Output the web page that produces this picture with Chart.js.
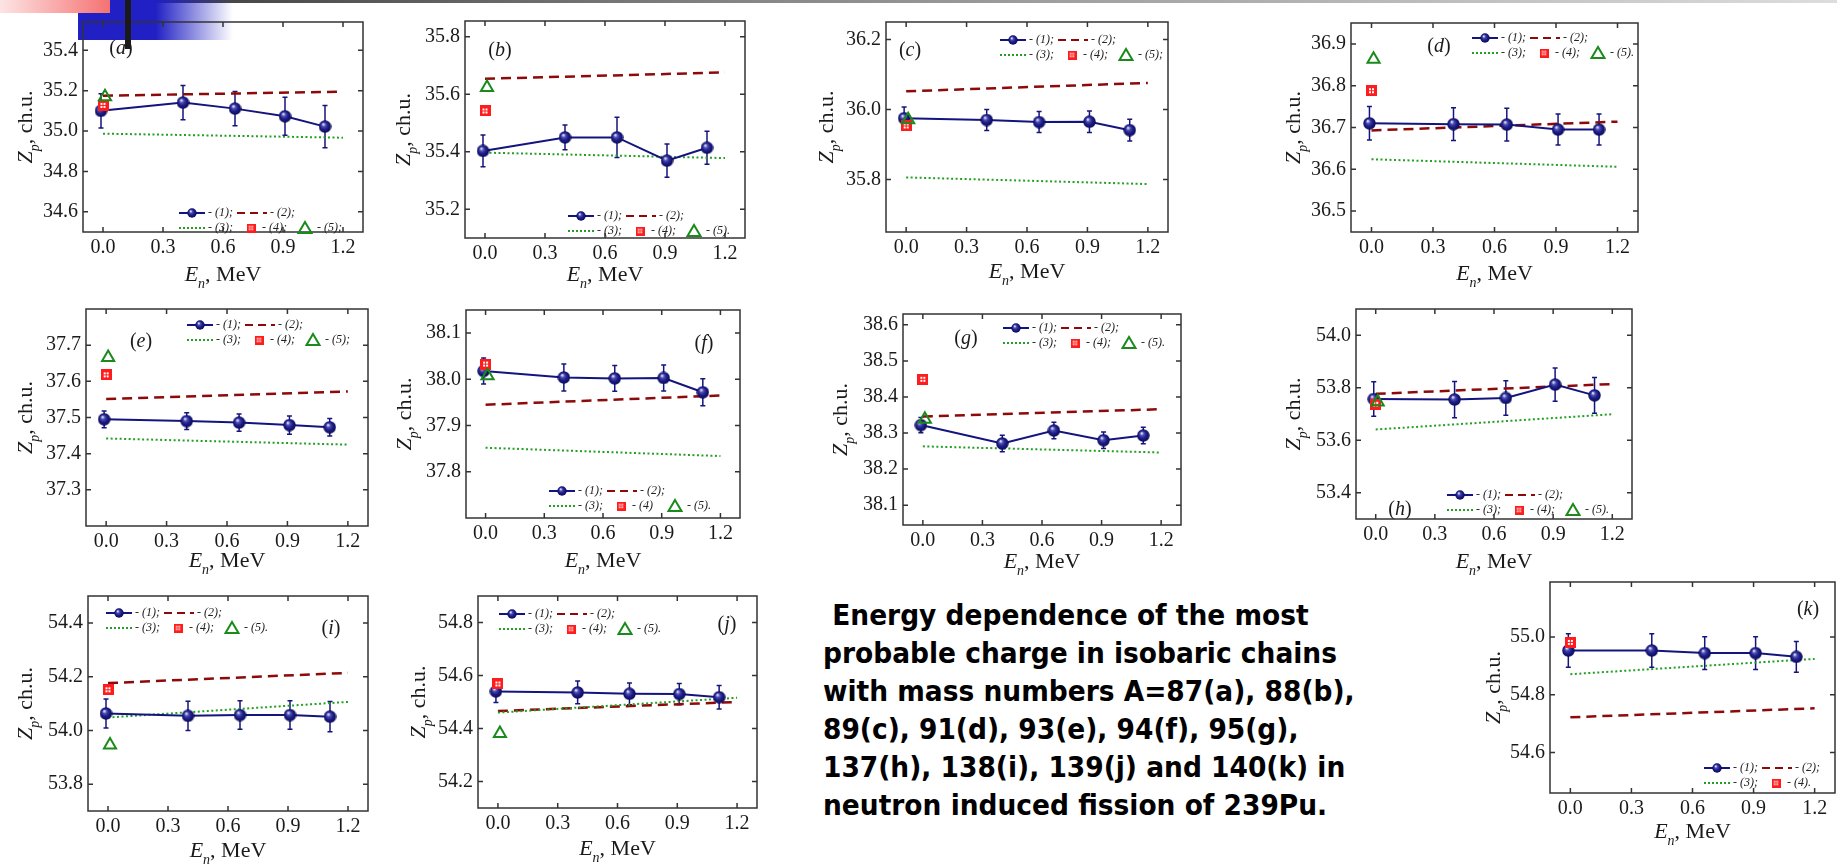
<!DOCTYPE html>
<html>
<head>
<meta charset="utf-8">
<script src="https://cdn.jsdelivr.net/npm/chart.js@4.4.0/dist/chart.umd.min.js"></script>
<style>
  body { margin: 0; width: 1837px; height: 865px; overflow: hidden; background: #fff; position: relative; }
  canvas { position: absolute; z-index: 2; }
  .deco { position: absolute; }
  #topbar { left: 58px; top: 0; width: 1779px; height: 3px; background: linear-gradient(to right, #333, #888 40%, #ddd); z-index: 1; }
  #blue { left: 78px; top: 0; width: 155px; height: 40px; background: linear-gradient(to right, #2020c4 0%, #2020c4 50%, rgba(255,255,255,0)); z-index: 1; }
  #red { left: 0; top: 0; width: 110px; height: 13px; background: linear-gradient(to right, #fde4e4, #f9a0a0 60%, #f47272); z-index: 1; }
  #bar { left: 125px; top: 0; width: 6px; height: 49px; background: #1a1a1a; z-index: 3; }
  #caption {
    position: absolute; left: 823px; top: 596px; white-space: pre;
    font-family: "DejaVu Sans", sans-serif; font-weight: bold; font-size: 29px; line-height: 38px;
    color: #000; transform: scaleX(0.913); transform-origin: left top;
  }
</style>
</head>
<body>
<div class="deco" id="topbar"></div>
<div class="deco" id="blue"></div>
<div class="deco" id="red"></div>
<div class="deco" id="bar"></div>
<div id="caption"> Energy dependence of the most
probable charge in isobaric chains
with mass numbers A=87(a), 88(b),
89(c), 91(d), 93(e), 94(f), 95(g),
137(h), 138(i), 139(j) and 140(k) in
neutron induced fission of 239Pu.</div>

<script>
// ---- data ----
const panelNames = ['a', 'b', 'c', 'd', 'e', 'f', 'g', 'h', 'i', 'j', 'k'];
const energies = [-0.01, 0.40, 0.66, 0.91, 1.11];   // MeV, experiment (1)
const theoryEnergies = [0.0, 1.2];                   // MeV, curves (2), (3)
const ref4Energy = 0.0;
const ref5Energy = 0.01;

const zExp = [
  [35.100, 35.141, 35.111, 35.073, 35.022],
  [35.403, 35.450, 35.450, 35.369, 35.414],
  [35.975, 35.970, 35.964, 35.965, 35.941],
  [36.710, 36.708, 36.707, 36.695, 36.695],
  [37.495, 37.490, 37.486, 37.479, 37.473],
  [38.018, 38.004, 38.002, 38.003, 37.972],
  [38.322, 38.271, 38.307, 38.280, 38.293],
  [53.757, 53.755, 53.761, 53.812, 53.771],
  [54.063, 54.054, 54.057, 54.057, 54.051],
  [54.540, 54.536, 54.531, 54.530, 54.518],
  [54.953, 54.953, 54.944, 54.944, 54.931]
];
const zErr = [
  [0.085, 0.085, 0.085, 0.094, 0.105],
  [0.055, 0.043, 0.070, 0.058, 0.057],
  [0.032, 0.030, 0.030, 0.031, 0.031],
  [0.040, 0.039, 0.039, 0.037, 0.037],
  [0.023, 0.023, 0.024, 0.025, 0.024],
  [0.028, 0.029, 0.028, 0.028, 0.029],
  [0.021, 0.023, 0.023, 0.023, 0.023],
  [0.066, 0.069, 0.066, 0.063, 0.068],
  [0.054, 0.054, 0.053, 0.053, 0.056],
  [0.042, 0.043, 0.041, 0.040, 0.044],
  [0.058, 0.058, 0.057, 0.057, 0.053]
];
const zModel2 = [
  [35.175, 35.195], [35.654, 35.676], [36.052, 36.076], [36.693, 36.714],
  [37.551, 37.572], [37.945, 37.965], [38.346, 38.366], [53.777, 53.814],
  [54.176, 54.214], [54.466, 54.500], [54.722, 54.753]
];
const zModel3 = [
  [34.987, 34.967], [35.397, 35.378], [35.806, 35.787], [36.624, 36.606],
  [37.442, 37.425], [37.852, 37.834], [38.263, 38.246], [53.641, 53.699],
  [54.048, 54.106], [54.460, 54.516], [54.871, 54.924]
];
const zRef4 = [35.127, 35.542, 35.953, 36.788, 37.618, 38.033, 38.449, 53.737, 54.151, 54.568, 54.981];
const zRef5 = [35.170, 35.624, 35.971, 36.863, 37.666, 38.008, 38.338, 53.746, 53.946, 54.381, null];

const xTicks = [0.0, 0.3, 0.6, 0.9, 1.2];
const yTicks = [
  [34.6, 34.8, 35.0, 35.2, 35.4],
  [35.2, 35.4, 35.6, 35.8],
  [35.8, 36.0, 36.2],
  [36.5, 36.6, 36.7, 36.8, 36.9],
  [37.3, 37.4, 37.5, 37.6, 37.7],
  [37.8, 37.9, 38.0, 38.1],
  [38.1, 38.2, 38.3, 38.4, 38.5, 38.6],
  [53.4, 53.6, 53.8, 54.0],
  [53.8, 54.0, 54.2, 54.4],
  [54.2, 54.4, 54.6, 54.8],
  [54.6, 54.8, 55.0]
];
const yMin = [34.5, 35.1, 35.65, 36.45, 37.2, 37.7, 38.045, 53.3, 53.7, 54.1, 54.46];
const yMax = [35.54, 35.855, 36.25, 36.95, 37.8, 38.15, 38.63, 54.1, 54.5, 54.9, 55.19];

const label4 = ['- (4);', '- (4);', '- (4);', '- (4);', '- (4);', '- (4)', '- (4);', '- (4);', '- (4);', '- (4);', '- (4).'];
const label5 = ['- (5);', '- (5).', '- (5);', '- (5).', '- (5);', '- (5).', '- (5).', '- (5).', '- (5).', '- (5).', null];

// ---- layout (page pixels) ----
const boxes = [ // left, top, right, bottom of each plot frame
  [83, 10, 367, 232], [465, 9, 749, 238], [886, 10, 1172, 232], [1351, 11, 1642, 232],
  [86, 297, 372, 526], [466, 298, 744, 518], [903, 302, 1185, 525], [1356, 297, 1636, 519],
  [88, 584, 372, 811], [478, 584, 761, 808], [1550, 570, 1838, 793]
];
const legendAt = [[96, 191], [103, 195], [114, 18], [121, 15], [101, 16], [83, 181],
                  [100, 14], [91, 186], [18, 17], [21, 18], [154, 186]];
const letterAt = [[38, 25], [35, 28], [24, 27], [88, 22], [55, 31], [238, 32],
                  [63, 23], [44, 199], [243, 31], [249, 27], [258, 26]];
const xTitleDy = [49, 43, 46, 48, 41, 49, 43, 49, 46, 47, 45];
const yTitleDx = [51, 55, 53, 51, 54, 55, 56, 56, 56, 53, 50];

const AX_W = 80, AX_H = 65, PAD_T = 5, PAD_R = 5;
const NAVY = '#14147e', DARKRED = '#8e0a0a', GREEN = '#22a022', TRI = '#1a8a1a', FRAME = '#333';
const SERIF = '"Liberation Serif", "Times New Roman", serif';

function makeSphere(d) {
  const c = document.createElement('canvas');
  c.width = c.height = d;
  const g = c.getContext('2d');
  const r = d / 2;
  const grad = g.createRadialGradient(r * 0.72, r * 0.62, r * 0.05, r, r, r);
  grad.addColorStop(0, '#eeeeff');
  grad.addColorStop(0.28, '#4a4ab0');
  grad.addColorStop(0.6, '#1c1c88');
  grad.addColorStop(1, '#090950');
  g.fillStyle = grad;
  g.beginPath();
  g.arc(r, r, r - 0.3, 0, Math.PI * 2);
  g.fill();
  return c;
}

function makeSquare(s) {
  const c = document.createElement('canvas');
  c.width = c.height = s;
  const g = c.getContext('2d');
  g.fillStyle = '#ff1c1c';
  g.fillRect(0, 0, s, s);
  g.fillStyle = '#fff';
  const q = s / 11;
  [[3, 3], [6, 3], [3, 6], [6, 6]].forEach(([a, b]) => g.fillRect(a * q, b * q, 2 * q, 2 * q));
  return c;
}

const sphere = makeSphere(13);
const sphereSmall = makeSphere(10);
const square = makeSquare(11);
const squareSmall = makeSquare(9);

function drawRich(ctx, parts, x, y, size) {
  const fontOf = p => (p.i ? 'italic ' : '') + (p.sub ? Math.round(size * 0.65) : size) + 'px ' + SERIF;
  let total = 0;
  parts.forEach(p => { ctx.font = fontOf(p); total += ctx.measureText(p.t).width; });
  let cx = x - total / 2;
  ctx.textAlign = 'left';
  ctx.textBaseline = 'alphabetic';
  parts.forEach(p => {
    ctx.font = fontOf(p);
    ctx.fillText(p.t, cx, y + (p.sub ? size * 0.3 : 0));
    cx += ctx.measureText(p.t).width;
  });
}

function drawLegend(ctx, x0, y1, i) {
  const y2 = y1 + 15;
  ctx.save();
  ctx.font = 'italic 12px ' + SERIF;
  ctx.fillStyle = '#222';
  ctx.textBaseline = 'middle';
  ctx.textAlign = 'left';
  // (1)
  ctx.strokeStyle = NAVY; ctx.lineWidth = 2;
  ctx.beginPath(); ctx.moveTo(x0, y1); ctx.lineTo(x0 + 26, y1); ctx.stroke();
  ctx.drawImage(sphereSmall, x0 + 13 - 5, y1 - 5);
  ctx.fillText('- (1);', x0 + 29, y1);
  // (2)
  ctx.strokeStyle = DARKRED; ctx.setLineDash([8, 5]);
  ctx.beginPath(); ctx.moveTo(x0 + 58, y1); ctx.lineTo(x0 + 88, y1); ctx.stroke();
  ctx.fillText('- (2);', x0 + 91, y1);
  // (3)
  ctx.strokeStyle = GREEN; ctx.setLineDash([2, 2]);
  ctx.beginPath(); ctx.moveTo(x0, y2); ctx.lineTo(x0 + 26, y2); ctx.stroke();
  ctx.setLineDash([]);
  ctx.fillText('- (3);', x0 + 29, y2);
  // (4)
  ctx.drawImage(squareSmall, x0 + 72 - 4.5, y2 - 4.5);
  ctx.fillText(label4[i], x0 + 83, y2);
  // (5)
  if (label5[i]) {
    const cx = x0 + 126;
    ctx.strokeStyle = TRI; ctx.lineWidth = 2;
    ctx.beginPath();
    ctx.moveTo(cx, y2 - 6); ctx.lineTo(cx + 6.5, y2 + 5); ctx.lineTo(cx - 6.5, y2 + 5); ctx.closePath();
    ctx.stroke();
    ctx.fillText(label5[i], x0 + 138, y2);
  }
  ctx.restore();
}

function makeDecor(i) {
  return {
    id: 'decor' + i,
    beforeDatasetsDraw(chart) {
      // error bars of series (1)
      const { ctx, scales: { x, y } } = chart;
      ctx.save();
      ctx.strokeStyle = NAVY;
      ctx.lineWidth = 1.5;
      energies.forEach((e, k) => {
        const px = x.getPixelForValue(e);
        const lo = y.getPixelForValue(zExp[i][k] - zErr[i][k]);
        const hi = y.getPixelForValue(zExp[i][k] + zErr[i][k]);
        ctx.beginPath();
        ctx.moveTo(px, lo); ctx.lineTo(px, hi);
        ctx.moveTo(px - 2.5, lo); ctx.lineTo(px + 2.5, lo);
        ctx.moveTo(px - 2.5, hi); ctx.lineTo(px + 2.5, hi);
        ctx.stroke();
      });
      ctx.restore();
    },
    afterDraw(chart) {
      const { ctx, chartArea: a, scales: { x, y } } = chart;
      ctx.save();
      // frame and inward ticks on all sides
      ctx.strokeStyle = FRAME;
      ctx.lineWidth = 1.5;
      ctx.strokeRect(a.left, a.top, a.right - a.left, a.bottom - a.top);
      ctx.beginPath();
      xTicks.forEach(v => {
        const px = x.getPixelForValue(v);
        ctx.moveTo(px, a.bottom); ctx.lineTo(px, a.bottom - 5);
        ctx.moveTo(px, a.top); ctx.lineTo(px, a.top + 5);
      });
      yTicks[i].forEach(v => {
        const py = y.getPixelForValue(v);
        ctx.moveTo(a.left, py); ctx.lineTo(a.left + 5, py);
        ctx.moveTo(a.right, py); ctx.lineTo(a.right - 5, py);
      });
      ctx.stroke();

      // axis titles
      ctx.fillStyle = '#1a1a1a';
      drawRich(ctx, [{ t: 'E', i: true }, { t: 'n', i: true, sub: true }, { t: ', MeV' }],
        (a.left + a.right) / 2, a.bottom + xTitleDy[i], 22);
      ctx.save();
      ctx.translate(a.left - yTitleDx[i], (a.top + a.bottom) / 2);
      ctx.rotate(-Math.PI / 2);
      drawRich(ctx, [{ t: 'Z', i: true }, { t: 'p', i: true, sub: true }, { t: ', ch.u.' }], 0, 0, 22);
      ctx.restore();

      // panel letter
      drawRich(ctx, [{ t: '(' }, { t: panelNames[i], i: true }, { t: ')' }],
        a.left + letterAt[i][0], a.top + letterAt[i][1] + 7, 20);

      drawLegend(ctx, a.left + legendAt[i][0], a.top + legendAt[i][1], i);
      ctx.restore();
    }
  };
}

panelNames.forEach((name, i) => {
  const [L, T, R, B] = boxes[i];
  const canvas = document.createElement('canvas');
  const w = (R - L) + AX_W + PAD_R;
  const h = (B - T) + PAD_T + AX_H;
  canvas.width = w; canvas.height = h;
  canvas.style.width = w + 'px'; canvas.style.height = h + 'px';
  canvas.style.left = (L - AX_W) + 'px';
  canvas.style.top = (T - PAD_T) + 'px';
  document.body.appendChild(canvas);

  const pts = (xs, ys) => xs.map((v, k) => ({ x: v, y: ys[k] }));
  const datasets = [];
  if (zRef5[i] !== null) {
    datasets.push({
      label: '(5)', data: [{ x: ref5Energy, y: zRef5[i] }], showLine: false,
      pointStyle: 'triangle', pointRadius: 7, pointBorderWidth: 2,
      pointBorderColor: TRI, pointBackgroundColor: 'rgba(255,255,255,0)'
    });
  }
  datasets.push({
    label: '(4)', data: [{ x: ref4Energy, y: zRef4[i] }], showLine: false,
    pointStyle: square, pointRadius: 6
  });
  datasets.push({
    label: '(1)', data: pts(energies, zExp[i]), showLine: true,
    borderColor: NAVY, borderWidth: 2, pointStyle: sphere, pointRadius: 6
  });
  datasets.push({
    label: '(3)', data: pts(theoryEnergies, zModel3[i]), showLine: true,
    borderColor: GREEN, borderWidth: 2, borderDash: [2, 2.5], pointRadius: 0
  });
  datasets.push({
    label: '(2)', data: pts(theoryEnergies, zModel2[i]), showLine: true,
    borderColor: DARKRED, borderWidth: 2.5, borderDash: [10, 6], pointRadius: 0
  });

  const tickFont = { family: SERIF, size: 20 };
  new Chart(canvas.getContext('2d'), {
    type: 'scatter',
    data: { datasets },
    options: {
      responsive: false,
      animation: false,
      events: [],
      layout: { padding: { left: 0, top: PAD_T, right: PAD_R, bottom: 0 } },
      plugins: { legend: { display: false }, tooltip: { enabled: false } },
      scales: {
        x: {
          type: 'linear', min: -0.1, max: 1.3,
          afterFit: s => { s.height = AX_H; },
          afterBuildTicks: s => { s.ticks = xTicks.map(v => ({ value: v })); },
          grid: { display: false, drawTicks: false },
          border: { display: false },
          ticks: { padding: 4, color: '#1a1a1a', font: tickFont, maxRotation: 0, autoSkip: false,
                   callback: v => v.toFixed(1) }
        },
        y: {
          type: 'linear', min: yMin[i], max: yMax[i],
          afterFit: s => { s.width = AX_W; },
          afterBuildTicks: s => { s.ticks = yTicks[i].map(v => ({ value: v })); },
          grid: { display: false, drawTicks: false },
          border: { display: false },
          ticks: { padding: 5, color: '#1a1a1a', font: tickFont, autoSkip: false,
                   callback: v => v.toFixed(1) }
        }
      }
    },
    plugins: [makeDecor(i)]
  });
});
</script>
</body>
</html>
